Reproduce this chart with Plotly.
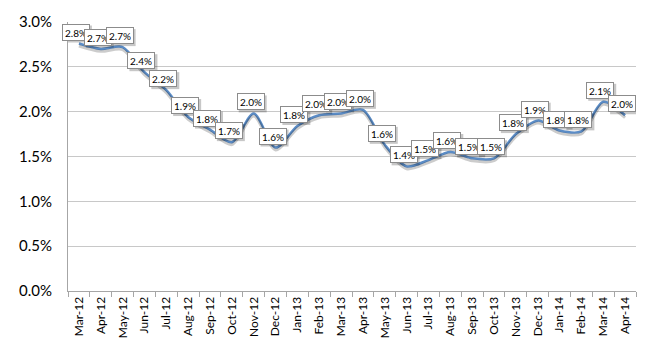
import plotly.graph_objects as go

# Monthly rate series, March 2012 through April 2014
months = ["Mar-12", "Apr-12", "May-12", "Jun-12", "Jul-12", "Aug-12", "Sep-12",
          "Oct-12", "Nov-12", "Dec-12", "Jan-13", "Feb-13", "Mar-13", "Apr-13",
          "May-13", "Jun-13", "Jul-13", "Aug-13", "Sep-13", "Oct-13", "Nov-13",
          "Dec-13", "Jan-14", "Feb-14", "Mar-14", "Apr-14"]
rates = [0.0276, 0.0270, 0.0272, 0.0244, 0.0224, 0.0194, 0.0180,
         0.0166, 0.0198, 0.0160, 0.0184, 0.0196, 0.0198, 0.0202,
         0.0163, 0.0139, 0.0146, 0.0155, 0.0148, 0.0148, 0.0175,
         0.0190, 0.0179, 0.0178, 0.0211, 0.0196]

y_ticks = [0.0, 0.005, 0.010, 0.015, 0.020, 0.025, 0.030]

plot_h = 350 - 18 - 56
px = 0.03 / plot_h  # data units per pixel on the y axis

# label box geometry (pixels)
BOX_W, BOX_H, PAD, LIFT, SHIFT_X = 22, 11, 2, 3, -3
outer_w = BOX_W + 2 * PAD + 2
outer_h = BOX_H + 2 * PAD + 2

fig = go.Figure()

# soft drop shadow under the line (same data, axis shifted a few pixels)
fig.add_trace(go.Scatter(
    x=months, y=rates, mode="lines", yaxis="y2",
    line=dict(color="rgba(0,0,0,0.20)", width=3, shape="spline", smoothing=0.8),
    hoverinfo="skip", showlegend=False))

fig.add_trace(go.Scatter(
    x=months, y=rates, mode="lines",
    line=dict(color="#5b8cc6", width=2.5, shape="spline", smoothing=0.8),
    showlegend=False))

# shadows behind the value boxes, anchored to each point in pixel units
shapes = []
for m, v in zip(months, rates):
    cx = SHIFT_X + 2
    shapes.append(dict(
        type="rect", layer="above", xref="x", yref="y",
        xsizemode="pixel", ysizemode="pixel", xanchor=m, yanchor=v,
        x0=cx - outer_w / 2, x1=cx + outer_w / 2,
        y0=LIFT - 2, y1=LIFT - 2 + outer_h,
        fillcolor="rgba(0,0,0,0.22)", line=dict(width=0)))

annotations = []
for m, v in zip(months, rates):
    annotations.append(dict(
        x=m, y=v, xref="x", yref="y", text=f"{v:.1%}", showarrow=False,
        yanchor="bottom", yshift=LIFT, xshift=SHIFT_X,
        width=BOX_W, height=BOX_H, align="center", valign="middle",
        font=dict(family="Lato", size=10, color="black"),
        bgcolor="white", borderpad=PAD, borderwidth=1, bordercolor="#8c8c8c"))

fig.update_layout(
    width=650, height=350,
    margin=dict(l=68, r=14, t=18, b=56),
    paper_bgcolor="white", plot_bgcolor="white",
    annotations=annotations, shapes=shapes,
    xaxis=dict(
        type="category", categoryorder="array", categoryarray=months,
        tickangle=-90, tickson="boundaries", ticks="outside", ticklen=5,
        tickcolor="#a6a6a6", showgrid=False, showline=True, linecolor="#a6a6a6",
        linewidth=1, tickfont=dict(family="Lato", size=12, color="black"),
        range=[-0.5, len(months) - 0.5]),
    yaxis=dict(
        range=[0, 0.03], tickvals=y_ticks, tickformat=".1%",
        showgrid=True, gridcolor="#c8c8c8", gridwidth=1,
        showline=True, linecolor="#a6a6a6", linewidth=1, zeroline=False,
        ticks="", ticklabelstandoff=12,
        tickfont=dict(family="Lato", size=15, color="black")),
    yaxis2=dict(
        overlaying="y", range=[2.5 * px, 0.03 + 2.5 * px], visible=False),
)

fig.write_html("out.html")
